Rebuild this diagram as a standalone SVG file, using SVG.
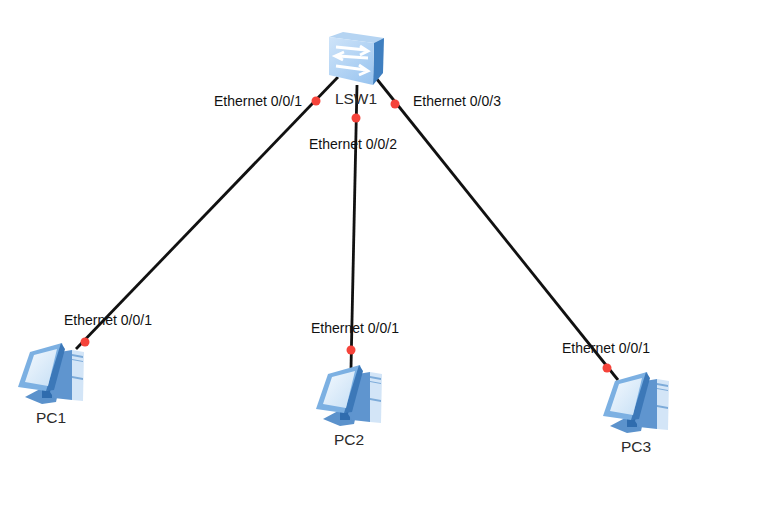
<svg xmlns="http://www.w3.org/2000/svg" width="781" height="510" viewBox="0 0 781 510">
<style>
text{font-family:"Liberation Sans",Arial,sans-serif;fill:#111}
.port{font-size:14px;text-anchor:middle}
.name{font-size:15.5px;text-anchor:middle;fill:#2b2b2b}
.link{stroke:#111;stroke-width:2.8;fill:none}
.dot{fill:#f5433a}
</style>
<defs>
<linearGradient id="face" x1="0" y1="0" x2="0.8" y2="1"><stop offset="0" stop-color="#cfe4f9"/><stop offset="1" stop-color="#9cc6f0"/></linearGradient>
<linearGradient id="screen" x1="0" y1="0" x2="1" y2="1"><stop offset="0" stop-color="#f4f9fe"/><stop offset="1" stop-color="#c6dff5"/></linearGradient>
<g id="pc">
<path d="M25 397 40 389 58 393 56 402 42 404Z" fill="#5b92cc"/>
<path d="M42 384h10v14h-10z" fill="#2f6cae"/>
<path d="M50 392 60 352 72 350V400L54 398Z" fill="#5f95cf"/>
<path d="M72 350 84 352 83 401 72 400Z" fill="#d3e5f7"/>
<path d="M72 354 83 356V358L72 356ZM72 359 83 361V362L72 360ZM72 376 83 378V380L72 378Z" fill="#7dabd9"/>
<path d="M18 387 30 352 62 343 64 349 53 388 46 391Z" fill="#7cb0e2"/>
<path d="M46 391 61 343 65 349 54 390Z" fill="#3c78b8"/>
<path d="M25 382 34 355 57 349 48 386Z" fill="url(#screen)"/>
</g>
</defs>
<rect width="781" height="510" fill="#fff"/>
<g id="connectors">
<path class="link" d="M76 349 338 77"/>
<path class="link" d="M357 85 351 368"/>
<path class="link" d="M376 78 618 380"/>
<circle class="dot" cx="85" cy="342" r="4.5"/>
<circle class="dot" cx="316" cy="101" r="4.5"/>
<circle class="dot" cx="356" cy="118" r="4.5"/>
<circle class="dot" cx="351" cy="350" r="4.5"/>
<circle class="dot" cx="395" cy="104" r="4.5"/>
<circle class="dot" cx="607" cy="368" r="4.5"/>
</g>
<g id="LSW1">
<path d="M329 37 343 32 384 38 374 43Z" fill="#b5d4f2"/>
<path d="M374 43 384 38 383 73 373 85Z" fill="#3f7fc0"/>
<path d="M329 37 374 43 373 85 329 75Z" fill="url(#face)"/>
<path d="M336 47 366 50M360 46 368 51 360 55M368 58 338 56M344 52 335 56 343 60M336 66 366 70M359 65 368 71 359 75" fill="none" stroke="#fff" stroke-width="2.8"/>
<text class="name" x="356" y="104">LSW1</text>
</g>
<g id="PC1"><use href="#pc"/><text class="name" x="51" y="423">PC1</text></g>
<g id="PC2"><use href="#pc" x="298" y="22"/><text class="name" x="349" y="445">PC2</text></g>
<g id="PC3"><use href="#pc" x="585" y="29"/><text class="name" x="636" y="452">PC3</text></g>
<g id="labels">
<text class="port" x="258" y="106">Ethernet 0/0/1</text>
<text class="port" x="353" y="149">Ethernet 0/0/2</text>
<text class="port" x="457" y="106">Ethernet 0/0/3</text>
<text class="port" x="108" y="325">Ethernet 0/0/1</text>
<text class="port" x="355" y="333">Ethernet 0/0/1</text>
<text class="port" x="606" y="353">Ethernet 0/0/1</text>
</g>
</svg>
